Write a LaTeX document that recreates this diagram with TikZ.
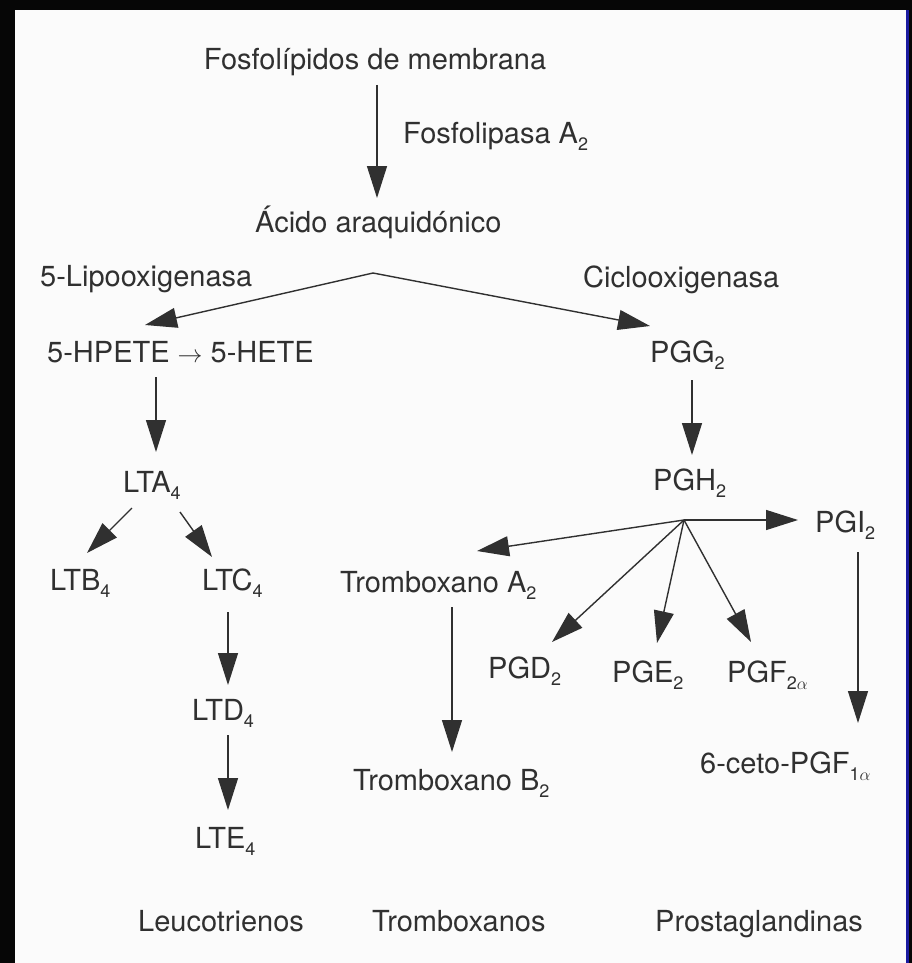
\documentclass[tikz,border=0pt]{standalone}
\usepackage{fontspec}
\setmainfont{TeX Gyre Heros}
\usetikzlibrary{arrows.meta}
\definecolor{ink}{HTML}{303030}
\definecolor{pagebg}{HTML}{FBFBFB}
\definecolor{framec}{HTML}{060606}
\definecolor{edgeblue}{HTML}{1A1AA0}
\newcommand\subx[1]{\raisebox{-0.25em}{\fontsize{18}{20}\selectfont #1}}
\begin{document}
\begin{tikzpicture}[x=1pt,y=-1pt,
  lbl/.style={anchor=base west, inner sep=0pt, text=ink, font=\fontsize{29}{34}\selectfont},
  clbl/.style={lbl, anchor=base},
  arr/.style={draw=ink, line width=1.4pt, -{Triangle[length=32pt,width=20pt]}}]
\useasboundingbox (0,0) rectangle (912,963);
\fill[framec] (0,0) rectangle (912,963);
\fill[pagebg] (15,10) rectangle (906,963);
\fill[edgeblue] (906,10) rectangle (909,963);

% labels
\node[clbl] (fosfo) at (375,70) {Fosfolípidos de membrana};
\node[lbl] (pla) at (403,143) {Fosfolipasa A\subx{2}};
\node[lbl] (acido) at (255,232) {Ácido araquidónico};
\node[lbl] (lipo) at (40,286) {5-Lipooxigenasa};
\node[lbl] (ciclo) at (583,287) {Ciclooxigenasa};
\node[lbl] (hpete) at (47,362) {5-HPETE $\rightarrow$ 5-HETE};
\node[lbl] (pgg) at (650,362) {PGG\subx{2}};
\node[lbl] (lta) at (123,492) {LTA\subx{4}};
\node[lbl] (pgh) at (653,490) {PGH\subx{2}};
\node[lbl] (pgi) at (815,532) {PGI\subx{2}};
\node[lbl] (ltb) at (50,590) {LTB\subx{4}};
\node[lbl] (ltc) at (202,590) {LTC\subx{4}};
\node[lbl] (txa) at (340,592) {Tromboxano A\subx{2}};
\node[lbl] (pgd) at (488,678) {PGD\subx{2}};
\node[lbl] (pge) at (612,682) {PGE\subx{2}};
\node[lbl] (pgf) at (727,682) {PGF\subx{2$\alpha$}};
\node[lbl] (ltd) at (192,720) {LTD\subx{4}};
\node[lbl] (keto) at (700,773) {6-ceto-PGF\subx{1$\alpha$}};
\node[lbl] (txb) at (353,790) {Tromboxano B\subx{2}};
\node[lbl] (lte) at (195,848) {LTE\subx{4}};
\node[lbl] (leuco) at (138,931) {Leucotrienos};
\node[lbl] (trombo) at (372,931) {Tromboxanos};
\node[lbl] (prosta) at (655,931) {Prostaglandinas};

% connector end points
\coordinate (fosfoS) at (377,85);
\coordinate (acidoN) at (377,198);
\coordinate (b1) at (373,273);
\coordinate (hpeteN) at (145,325);
\coordinate (pggN) at (650,326);
\coordinate (hpeteS) at (156,377);
\coordinate (ltaN) at (156,452);
\coordinate (pggS) at (692,380);
\coordinate (pghN) at (692,455);
\coordinate (ltaSW) at (132,508);
\coordinate (ltbN) at (87,553);
\coordinate (ltaSE) at (180,512);
\coordinate (ltcN) at (212,557);
\coordinate (ltcS) at (228,612);
\coordinate (ltdN) at (228,685);
\coordinate (ltdS) at (228,735);
\coordinate (lteN) at (228,810);
\coordinate (b2) at (684,520);
\coordinate (txaN) at (477,551);
\coordinate (pgdN) at (552,642);
\coordinate (pgeN) at (657,643);
\coordinate (pgfN) at (751,642);
\coordinate (pgiW) at (798,520);
\coordinate (pgiS) at (858,552);
\coordinate (ketoN) at (858,723);
\coordinate (txaS) at (452,607);
\coordinate (txbN) at (452,752);

% connectors
\draw[arr] (fosfoS) -- (acidoN);
\draw[arr] (b1) -- (hpeteN);
\draw[arr] (b1) -- (pggN);
\draw[arr] (hpeteS) -- (ltaN);
\draw[arr] (pggS) -- (pghN);
\draw[arr] (ltaSW) -- (ltbN);
\draw[arr] (ltaSE) -- (ltcN);
\draw[arr] (ltcS) -- (ltdN);
\draw[arr] (ltdS) -- (lteN);
\draw[arr] (b2) -- (txaN);
\draw[arr] (b2) -- (pgdN);
\draw[arr] (b2) -- (pgeN);
\draw[arr] (b2) -- (pgfN);
\draw[arr] (b2) -- (pgiW);
\draw[arr] (pgiS) -- (ketoN);
\draw[arr] (txaS) -- (txbN);
\end{tikzpicture}
\end{document}
